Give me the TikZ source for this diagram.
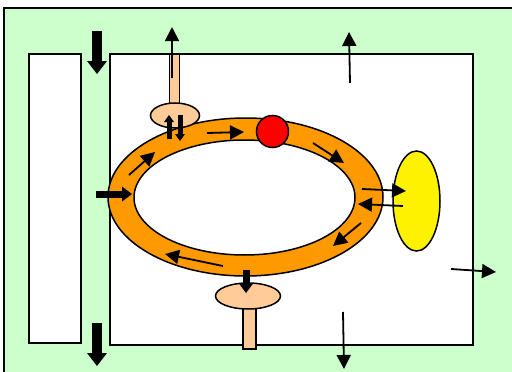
\documentclass[tikz,border=0pt]{standalone}
\usetikzlibrary{arrows.meta}
\definecolor{bggreen}{HTML}{CCFFCC}
\definecolor{ringorange}{HTML}{FF9900}
\definecolor{stalkpeach}{HTML}{FFCC99}
\begin{document}
\begin{tikzpicture}[x=1pt,y=-1pt,line width=1.5pt,
  flowarrow/.style={line width=1.8pt,-{Triangle[length=14pt,width=14pt]}},
  bigarrow/.style={line width=10pt,-{Triangle[length=13pt,width=20pt,line width=0pt]}},
  midarrow/.style={line width=7pt,-{Triangle[length=10pt,width=15pt,line width=0pt]}},
  smallarrow/.style={line width=5pt,-{Triangle[length=7pt,width=10pt,line width=0pt]}}]
  \useasboundingbox (0,0) rectangle (512,372);
  \fill[bggreen] (4,8) rectangle (512,372);
  \draw[line width=2pt] (512,8) -- (4,8) -- (4,372);
  \filldraw[fill=white] (29,54) rectangle (81,343);
  \filldraw[fill=white] (110,54) rectangle (473,345);
  \filldraw[fill=stalkpeach,line width=0.8pt] (169,54) rectangle (179,110);
  \filldraw[fill=stalkpeach] (243,300) rectangle (256,349);
  \filldraw[fill=ringorange,even odd rule] (245.5,197) ellipse [x radius=137.5pt,y radius=79pt]
    (244.5,197.5) ellipse [x radius=110.5pt,y radius=57.5pt];
  \filldraw[fill=stalkpeach] (175,115.5) ellipse [x radius=24.5pt,y radius=12.5pt];
  \filldraw[fill=stalkpeach] (248,296) ellipse [x radius=32.5pt,y radius=13pt];
  \filldraw[fill=red] (272.5,131.5) circle [radius=16pt];
  \filldraw[fill=yellow] (416.5,201) ellipse [x radius=23.5pt,y radius=50pt];
  \draw[flowarrow] (172,78) -- (172,27);
  \draw[flowarrow] (350,83) -- (349,32);
  \draw[flowarrow] (451,269) -- (496,272);
  \draw[flowarrow] (343,312) -- (344,369);
  \draw[flowarrow] (129,175) -- (155,152);
  \draw[flowarrow] (207,133) -- (244,132);
  \draw[flowarrow] (313,143) -- (344,163);
  \draw[flowarrow] (362,189) -- (406,191);
  \draw[flowarrow] (403,206) -- (358,204);
  \draw[flowarrow] (361,223) -- (333,246);
  \draw[flowarrow] (223,266) -- (165,254);
  \draw[bigarrow] (97,31) -- (97,74);
  \draw[bigarrow] (97,323) -- (97,366);
  \draw[midarrow] (96,194) -- (132,194);
  \draw[midarrow] (246,270) -- (246,293);
  \draw[smallarrow] (169,139) -- (169,115);
  \draw[smallarrow] (180,115) -- (180,141);
\end{tikzpicture}
\end{document}
